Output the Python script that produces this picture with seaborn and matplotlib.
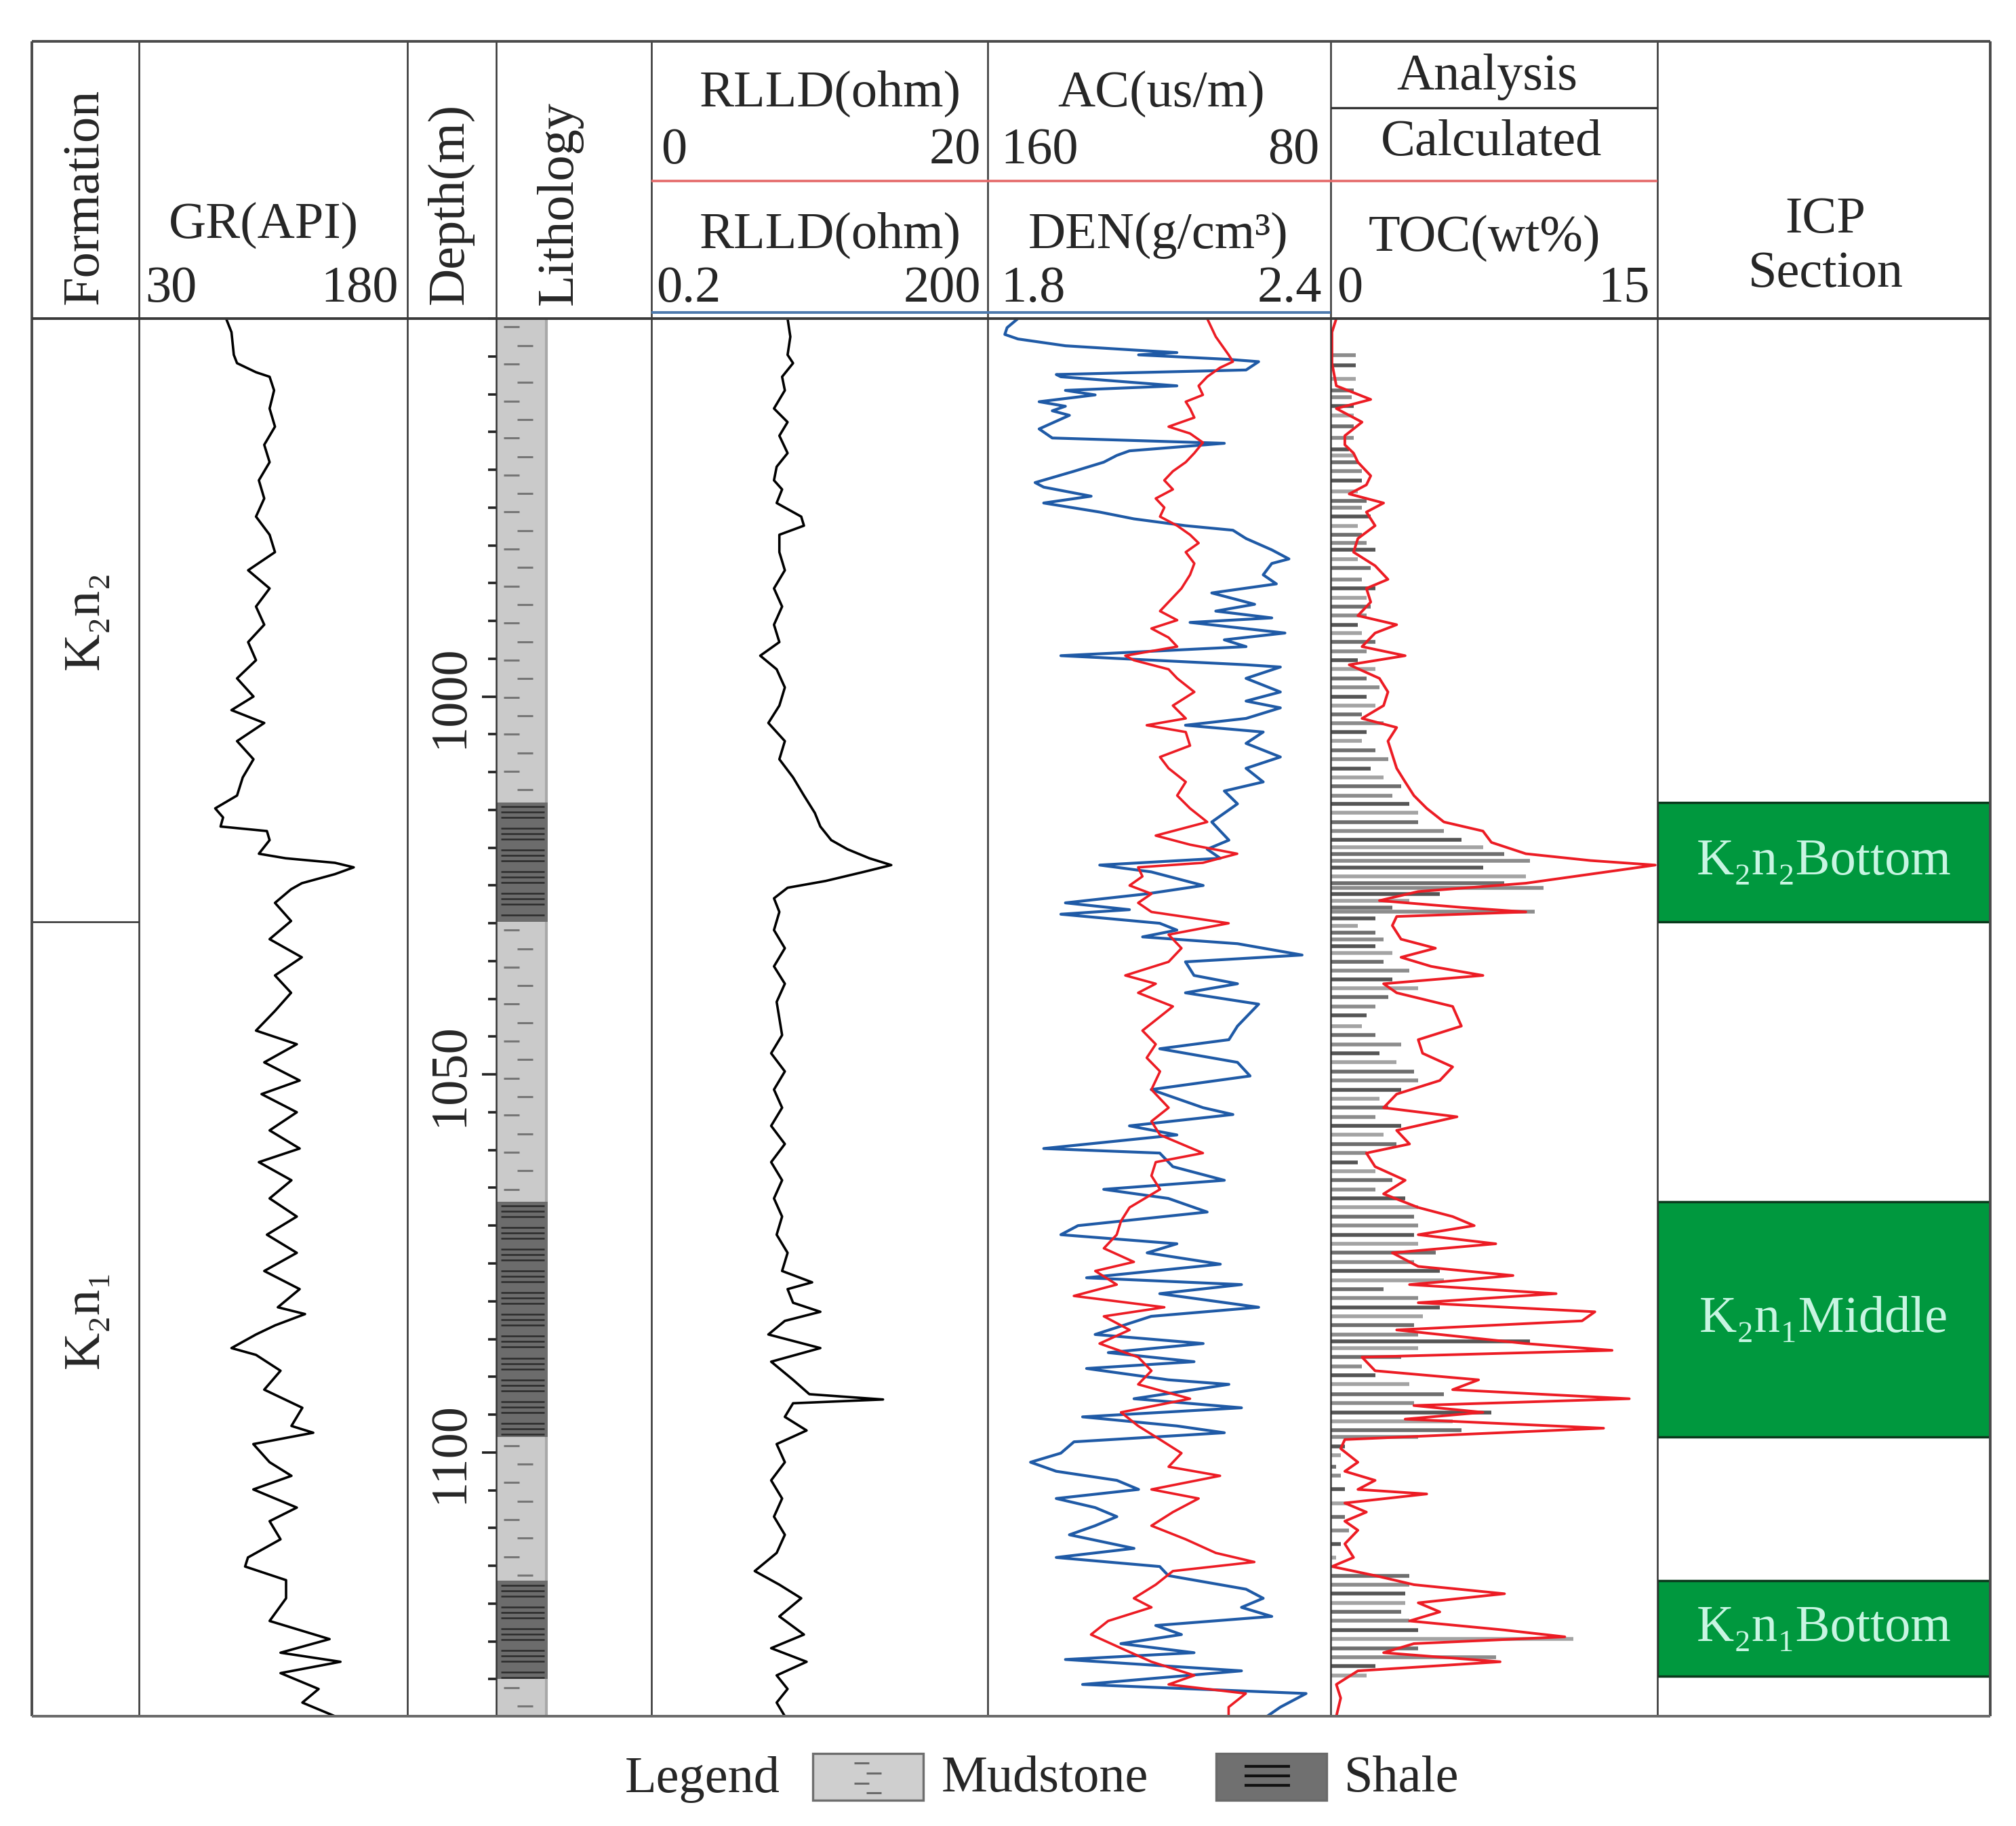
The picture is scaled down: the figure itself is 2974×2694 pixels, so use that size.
import numpy as np
import pandas as pd
import matplotlib
matplotlib.use("Agg")
import matplotlib.pyplot as plt
from matplotlib.lines import Line2D
from matplotlib.patches import Rectangle
from matplotlib.ticker import MultipleLocator, FixedLocator
import seaborn as sns

sns.set_theme(style="white")
plt.rcParams["font.family"] = ["Liberation Serif", "DejaVu Serif"]

depth_top, depth_bottom = 950.0, 1134.9
depth_labels = [1000, 1050, 1100]

form_names = ["K₂n₂", "K₂n₁"]
form_top = [950.0, 1029.8]
form_base = [1029.8, 1134.9]

lith_kind = ["Mudstone", "Shale", "Mudstone", "Shale", "Mudstone", "Shale", "Mudstone"]
lith_top = [950.0, 1014.0, 1029.8, 1066.8, 1098.0, 1117.0, 1130.0]
lith_base = [1014.0, 1029.8, 1066.8, 1098.0, 1117.0, 1130.0, 1134.9]

icp_names = ["K₂n₂Bottom", "K₂n₁Middle", "K₂n₁Bottom"]
icp_top = [1014.0, 1066.8, 1117.0]
icp_base = [1029.8, 1098.0, 1129.6]

# GR (API): (depth m, value)
gr_log = [
    (950.0, 78.7), (951.8, 81.7), (954.8, 83.0), (955.9, 84.8), (957.1, 95.4), (957.7, 103.0),
    (959.5, 105.5), (961.9, 103.0), (964.3, 106.0), (966.7, 100.0), (969.0, 103.0), (971.4, 97.0),
    (973.8, 100.0), (976.2, 95.4), (978.6, 103.0), (980.9, 106.0), (983.3, 91.0), (985.7, 103.0),
    (988.1, 95.4), (990.5, 100.0), (992.8, 91.0), (995.2, 95.4), (997.6, 84.8), (1000.0, 94.0),
    (1001.8, 81.7), (1003.5, 100.0), (1005.9, 84.8), (1008.3, 94.0), (1010.7, 88.0), (1013.1, 84.8),
    (1014.8, 72.6), (1016.0, 77.0), (1017.2, 75.6), (1017.8, 101.5), (1019.0, 103.0), (1020.8, 97.0),
    (1021.4, 112.0), (1022.0, 139.5), (1022.6, 150.0), (1023.5, 139.5), (1024.7, 121.0), (1025.5, 115.0),
    (1027.3, 106.0), (1029.7, 115.0), (1032.1, 103.0), (1034.5, 121.0), (1036.9, 106.0), (1039.2, 115.0),
    (1041.6, 106.0), (1044.2, 95.4), (1046.0, 118.2), (1048.4, 100.0), (1050.8, 119.8), (1052.6, 98.5),
    (1055.0, 118.2), (1057.4, 103.0), (1059.8, 119.8), (1061.6, 97.0), (1064.0, 115.2), (1066.4, 103.0),
    (1068.8, 118.2), (1071.2, 101.5), (1073.6, 118.2), (1076.0, 100.0), (1078.4, 119.8), (1080.8, 107.6),
    (1081.7, 122.8), (1083.2, 106.0), (1084.4, 95.4), (1086.2, 81.7), (1087.1, 95.4), (1089.2, 109.1),
    (1091.7, 100.0), (1094.1, 121.3), (1096.5, 115.2), (1097.4, 127.4), (1098.9, 93.9), (1101.3, 103.0),
    (1103.1, 115.2), (1104.9, 93.9), (1107.3, 118.2), (1109.1, 103.0), (1111.5, 109.1), (1113.9, 90.9),
    (1115.1, 89.3), (1116.9, 112.2), (1119.3, 112.2), (1122.3, 103.0), (1124.7, 136.5), (1126.5, 109.1),
    (1127.7, 142.6), (1129.2, 109.1), (1131.3, 130.4), (1133.1, 121.3), (1134.9, 139.5),
]

# RLLD (ohm.m)
rlld_log = [
    (950.0, 3.28), (952.4, 3.47), (954.8, 3.28), (955.9, 3.67), (957.7, 2.93), (959.5, 3.10),
    (961.9, 2.48), (963.7, 3.28), (965.5, 2.77), (967.8, 3.28), (969.6, 2.62), (971.4, 2.48),
    (972.6, 2.93), (974.4, 2.62), (976.2, 4.34), (977.4, 4.59), (978.6, 2.77), (980.9, 2.77),
    (983.3, 3.10), (985.7, 2.48), (988.1, 2.93), (990.5, 2.48), (992.8, 2.77), (994.6, 1.87),
    (996.4, 2.62), (998.8, 3.10), (1001.2, 2.77), (1003.5, 2.21), (1005.9, 3.10), (1008.3, 2.77),
    (1010.7, 3.67), (1013.1, 4.59), (1015.4, 5.74), (1017.2, 6.43), (1019.0, 8.04), (1020.2, 11.2),
    (1021.4, 17.6), (1022.3, 27.6), (1023.2, 15.7), (1024.4, 7.18), (1025.3, 3.28), (1026.7, 2.48),
    (1028.5, 2.77), (1030.9, 2.48), (1033.3, 3.10), (1035.7, 2.48), (1038.0, 3.10), (1040.4, 2.62),
    (1044.8, 2.93), (1047.2, 2.34), (1049.6, 3.10), (1052.0, 2.48), (1054.4, 2.93), (1056.8, 2.34),
    (1059.2, 3.10), (1061.6, 2.34), (1064.0, 2.93), (1066.4, 2.48), (1068.8, 2.93), (1071.2, 2.62),
    (1073.6, 3.28), (1076.0, 2.93), (1077.5, 5.43), (1078.4, 3.28), (1080.2, 3.67), (1081.4, 6.43),
    (1082.6, 3.10), (1084.4, 2.21), (1086.2, 6.43), (1088.0, 2.34), (1090.4, 3.67), (1092.3, 5.13),
    (1093.0, 23.3), (1093.5, 3.67), (1095.3, 3.10), (1097.1, 4.85), (1098.9, 2.62), (1101.3, 3.10),
    (1103.7, 2.34), (1106.1, 2.93), (1108.5, 2.48), (1110.9, 3.10), (1113.3, 2.62), (1115.7, 1.67),
    (1117.5, 2.77), (1119.3, 4.34), (1121.7, 2.77), (1124.1, 4.59), (1125.9, 2.34), (1127.7, 4.85),
    (1129.5, 2.62), (1131.3, 3.28), (1133.1, 2.62), (1134.9, 3.10),
]

# DEN (g/cm3)
den_log = [
    (950.0, 1.853), (951.2, 1.834), (952.1, 1.830), (952.7, 1.853), (953.6, 1.936), (954.2, 2.064),
    (954.5, 2.131), (954.8, 2.064), (955.4, 2.222), (955.7, 2.274), (956.8, 2.252), (957.4, 1.920),
    (957.7, 1.928), (958.9, 2.131), (959.5, 1.936), (960.1, 1.988), (961.0, 1.890), (961.6, 1.936),
    (962.2, 1.913), (962.8, 1.943), (964.6, 1.890), (965.8, 1.913), (966.5, 2.214), (967.5, 2.048),
    (968.1, 2.026), (969.0, 2.003), (970.2, 1.951), (971.7, 1.883), (972.3, 1.898), (973.5, 1.981),
    (974.4, 1.898), (975.6, 1.996), (976.5, 2.056), (977.4, 2.146), (978.0, 2.229), (979.1, 2.252),
    (980.6, 2.297), (981.8, 2.327), (982.4, 2.297), (983.9, 2.282), (985.1, 2.305), (986.3, 2.192),
    (987.8, 2.267), (988.7, 2.199), (989.6, 2.297), (990.2, 2.154), (991.6, 2.320), (992.5, 2.214),
    (993.4, 2.252), (994.6, 1.928), (995.8, 2.252), (996.1, 2.312), (997.6, 2.252), (999.4, 2.312),
    (1000.6, 2.252), (1001.5, 2.312), (1002.9, 2.252), (1003.8, 2.146), (1004.7, 2.282), (1006.2, 2.252),
    (1008.0, 2.312), (1009.5, 2.252), (1011.3, 2.282), (1012.5, 2.214), (1014.2, 2.237), (1016.6, 2.192),
    (1019.0, 2.222), (1020.2, 2.184), (1021.4, 2.207), (1022.3, 1.996), (1023.2, 2.086), (1025.0, 2.177),
    (1026.1, 2.079), (1027.3, 1.936), (1028.2, 2.048), (1028.8, 1.928), (1030.0, 2.101), (1030.9, 2.131),
    (1031.8, 2.071), (1032.7, 2.237), (1034.2, 2.350), (1035.1, 2.146), (1036.9, 2.161), (1038.0, 2.237),
    (1039.2, 2.146), (1040.7, 2.274), (1043.6, 2.237), (1045.4, 2.222), (1046.6, 2.101), (1048.4, 2.237),
    (1050.2, 2.259), (1052.0, 2.086), (1054.4, 2.177), (1055.3, 2.229), (1056.8, 2.048), (1058.0, 2.131),
    (1059.8, 1.898), (1060.4, 2.101), (1062.2, 2.124), (1064.0, 2.214), (1065.2, 2.003), (1066.4, 2.116),
    (1068.2, 2.184), (1070.0, 1.958), (1071.2, 1.928), (1072.4, 2.131), (1073.6, 2.079), (1075.1, 2.207),
    (1076.9, 1.973), (1077.8, 2.244), (1079.0, 2.101), (1080.8, 2.274), (1082.0, 2.086), (1084.4, 1.988),
    (1085.6, 2.177), (1086.8, 2.011), (1088.0, 2.161), (1088.9, 1.973), (1090.4, 2.116), (1091.0, 2.222),
    (1092.9, 2.056), (1094.1, 2.244), (1095.3, 1.966), (1096.5, 2.131), (1097.4, 2.214), (1098.6, 1.951),
    (1100.1, 1.928), (1101.3, 1.875), (1102.5, 1.920), (1103.7, 2.026), (1104.9, 2.064), (1106.1, 1.920),
    (1107.3, 1.988), (1108.5, 2.026), (1109.7, 1.988), (1110.9, 1.943), (1112.7, 2.056), (1113.9, 1.920),
    (1115.1, 2.101), (1116.3, 2.116), (1118.1, 2.252), (1119.3, 2.282), (1120.5, 2.244), (1121.7, 2.297),
    (1122.9, 2.094), (1124.1, 2.139), (1125.3, 2.033), (1126.5, 2.161), (1127.4, 1.936), (1128.9, 2.244),
    (1130.7, 1.966), (1131.9, 2.357), (1133.7, 2.312), (1134.9, 2.289),
]

# AC (us/m)
ac_log = [
    (950.0, 108.8), (951.2, 107.8), (952.4, 106.8), (953.6, 105.3), (954.8, 103.8), (955.7, 102.8),
    (956.5, 105.8), (957.7, 108.8), (958.9, 110.8), (960.1, 109.8), (961.0, 113.8), (961.9, 112.8),
    (963.1, 111.8), (964.3, 117.8), (965.2, 112.8), (966.4, 109.8), (967.8, 111.8), (969.0, 113.8),
    (970.2, 116.8), (971.4, 118.8), (972.6, 116.8), (973.8, 120.8), (975.0, 118.8), (976.2, 119.8),
    (977.4, 115.8), (978.6, 112.8), (979.7, 110.8), (980.9, 113.8), (982.4, 111.8), (983.9, 112.8),
    (985.7, 114.8), (987.5, 117.8), (988.7, 119.8), (989.9, 115.8), (991.0, 121.8), (992.2, 117.8),
    (993.4, 115.8), (994.6, 127.9), (995.2, 125.9), (996.4, 117.8), (997.6, 115.8), (999.4, 111.8),
    (1001.2, 116.8), (1002.9, 113.8), (1003.8, 122.9), (1004.7, 113.8), (1006.5, 112.8), (1008.0, 119.8),
    (1009.5, 117.8), (1011.3, 113.8), (1013.1, 115.8), (1014.8, 112.8), (1016.6, 108.8), (1018.4, 120.8),
    (1019.6, 112.8), (1020.8, 101.8), (1022.0, 109.8), (1022.6, 124.9), (1023.8, 123.9), (1025.0, 126.9),
    (1026.1, 121.8), (1027.3, 124.9), (1028.5, 121.8), (1030.0, 103.8), (1031.5, 117.8), (1033.3, 114.8),
    (1035.1, 117.8), (1036.9, 127.9), (1038.0, 120.8), (1039.2, 124.9), (1041.0, 116.8), (1044.2, 123.9),
    (1046.0, 120.8), (1047.8, 122.9), (1049.6, 119.8), (1052.0, 121.8), (1054.4, 117.8), (1056.2, 121.8),
    (1058.0, 119.8), (1060.4, 109.8), (1061.6, 120.8), (1063.4, 121.8), (1065.2, 119.8), (1067.6, 126.9),
    (1069.4, 128.9), (1071.2, 129.9), (1073.0, 132.9), (1074.8, 125.9), (1076.0, 134.9), (1077.8, 129.9),
    (1079.3, 139.9), (1080.8, 118.8), (1082.0, 132.9), (1083.8, 126.9), (1085.6, 133.9), (1087.4, 124.9),
    (1089.2, 121.8), (1091.0, 124.9), (1092.9, 112.8), (1094.7, 128.9), (1096.5, 124.9), (1098.3, 119.8),
    (1100.1, 114.8), (1101.9, 117.8), (1103.1, 105.8), (1104.9, 121.8), (1106.1, 110.8), (1107.9, 116.8),
    (1109.7, 121.8), (1111.5, 113.8), (1113.3, 106.8), (1114.5, 97.8), (1115.7, 116.8), (1117.5, 120.8),
    (1119.3, 125.9), (1120.5, 121.8), (1122.3, 131.9), (1124.1, 135.9), (1125.9, 128.9), (1127.7, 121.8),
    (1129.5, 111.8), (1130.7, 117.8), (1131.9, 99.8), (1133.7, 103.8), (1134.9, 103.8),
]

# calculated TOC (wt%)
toc_calc_log = [
    (950.0, 0.26), (951.8, 0.06), (953.6, 0.06), (955.9, 0.06), (958.9, 0.26), (960.7, 1.84),
    (961.9, 0.26), (963.7, 1.44), (965.5, 0.65), (966.7, 0.65), (967.8, 1.05), (969.0, 1.25),
    (970.8, 1.84), (972.0, 1.64), (973.2, 0.85), (974.4, 2.43), (975.6, 1.64), (977.4, 2.04),
    (979.1, 1.25), (980.9, 1.05), (982.7, 2.04), (984.5, 2.63), (985.7, 1.64), (987.5, 1.84),
    (989.3, 1.25), (990.5, 3.03), (991.6, 2.04), (993.4, 1.44), (994.6, 3.42), (995.8, 0.85),
    (997.6, 2.24), (999.4, 2.63), (1001.2, 2.43), (1002.9, 1.44), (1004.1, 3.03), (1005.9, 2.63),
    (1007.7, 2.83), (1009.5, 3.03), (1011.3, 3.42), (1013.1, 3.82), (1014.8, 4.41), (1016.6, 5.20),
    (1017.8, 6.99), (1019.3, 7.38), (1020.8, 8.96), (1021.7, 11.93), (1022.3, 14.90), (1023.5, 11.93),
    (1024.7, 8.96), (1025.8, 4.02), (1027.0, 2.24), (1027.9, 6.00), (1028.5, 8.96), (1029.1, 3.03),
    (1030.3, 2.83), (1032.1, 3.23), (1033.3, 4.81), (1034.5, 3.23), (1035.7, 4.61), (1036.9, 6.99),
    (1038.0, 2.43), (1039.2, 3.03), (1041.0, 5.60), (1043.6, 6.00), (1045.4, 4.02), (1047.2, 4.22),
    (1049.0, 5.60), (1050.8, 5.01), (1052.6, 3.03), (1054.4, 2.43), (1055.6, 5.80), (1057.4, 3.03),
    (1059.2, 3.62), (1060.4, 1.64), (1062.2, 2.04), (1064.0, 3.42), (1065.8, 2.43), (1067.6, 4.02),
    (1068.8, 5.60), (1070.0, 6.59), (1071.2, 4.02), (1072.4, 7.58), (1073.6, 2.83), (1075.4, 4.02),
    (1076.6, 8.37), (1077.8, 3.62), (1079.0, 10.35), (1080.2, 4.02), (1081.4, 12.13), (1082.6, 11.54),
    (1083.8, 3.03), (1085.6, 8.96), (1086.5, 12.92), (1087.4, 1.44), (1089.2, 2.04), (1090.4, 6.79),
    (1091.7, 5.60), (1092.9, 13.71), (1093.8, 3.82), (1094.7, 6.99), (1095.6, 3.42), (1096.8, 12.53),
    (1098.3, 0.65), (1099.5, 0.46), (1101.3, 1.25), (1102.5, 0.65), (1103.7, 2.04), (1104.9, 1.25),
    (1105.5, 4.41), (1106.7, 0.65), (1107.9, 1.64), (1109.1, 0.65), (1110.3, 1.25), (1112.1, 0.65),
    (1113.9, 1.05), (1115.1, 0.06), (1116.3, 2.04), (1117.5, 3.82), (1118.7, 7.98), (1119.9, 4.02),
    (1121.1, 5.01), (1122.3, 3.62), (1123.5, 7.98), (1124.4, 10.75), (1125.3, 3.82), (1126.5, 2.43),
    (1127.7, 7.78), (1128.9, 1.25), (1130.7, 0.26), (1132.5, 0.46), (1134.9, 0.26),
]

# analysed TOC samples (wt%)
toc_lab_depth = [
    954.8, 956.2, 958.0, 959.5, 960.4, 961.6, 962.8, 964.3, 965.8, 967.3, 968.1, 969.0, 970.2, 971.4,
    972.9, 974.1, 975.0, 976.2, 977.4, 978.6, 979.7, 980.6, 981.8, 983.0, 984.5, 985.7, 986.9, 988.1,
    989.3, 990.5, 991.6, 992.8, 994.0, 995.2, 996.4, 997.6, 998.8, 1000.0, 1001.2, 1002.4, 1003.5,
    1004.7, 1005.9, 1007.1, 1008.3, 1009.5, 1010.7, 1011.9, 1013.1, 1014.2, 1015.4, 1016.6, 1017.8,
    1019.0, 1019.9, 1020.8, 1021.7, 1022.6, 1023.8, 1024.7, 1025.3, 1026.1, 1027.0, 1027.9, 1028.5,
    1029.4, 1030.3, 1031.2, 1032.1, 1033.0, 1033.9, 1035.1, 1036.3, 1037.4, 1038.6, 1039.8, 1041.0,
    1042.2, 1043.6, 1044.8, 1046.0, 1047.2, 1048.4, 1049.6, 1050.8, 1052.0, 1053.2, 1054.4, 1055.6,
    1056.8, 1058.0, 1059.2, 1060.4, 1061.6, 1062.8, 1064.0, 1065.2, 1066.4, 1067.6, 1068.8, 1070.0,
    1071.2, 1072.4, 1073.6, 1074.8, 1076.0, 1077.2, 1078.4, 1079.6, 1080.8, 1082.0, 1083.2, 1084.4,
    1085.3, 1086.2, 1087.4, 1088.6, 1089.8, 1091.0, 1092.3, 1093.5, 1094.7, 1095.9, 1097.1, 1098.0,
    1099.2, 1100.4, 1101.9, 1103.1, 1104.9, 1106.7, 1108.5, 1110.3, 1112.1, 1113.9, 1116.3, 1117.5,
    1118.7, 1119.9, 1121.1, 1122.3, 1123.5, 1124.7, 1125.9, 1127.1, 1128.3, 1129.5,
]
toc_lab_val = [
    1.15, 1.15, 1.15, 1.05, 0.95, 1.05, 1.05, 1.05, 1.05, 0.85, 1.05, 1.25, 1.44, 1.44,
    1.25, 1.64, 1.44, 1.84, 1.25, 1.44, 1.64, 2.04, 1.25, 1.84, 1.44, 2.04, 1.64, 1.84,
    1.64, 1.25, 1.44, 2.04, 1.64, 1.25, 2.04, 1.64, 2.24, 1.64, 2.04, 1.44, 2.43,
    1.64, 1.44, 2.04, 2.63, 1.84, 2.43, 3.23, 2.83, 3.62, 4.02, 4.02, 5.20,
    6.00, 6.99, 7.98, 9.16, 6.99, 8.96, 7.98, 9.76, 5.01, 3.62, 2.83, 9.36,
    2.04, 1.25, 2.04, 2.43, 2.04, 2.83, 2.43, 3.62, 2.83, 4.02, 2.63, 2.04,
    1.64, 1.44, 2.04, 3.23, 2.24, 3.03, 3.82, 4.02, 3.23, 2.24, 2.63, 2.04,
    3.23, 2.43, 3.03, 1.64, 1.25, 2.04, 2.83, 2.04, 3.42, 4.02, 3.82, 4.02,
    3.82, 4.02, 4.81, 3.82, 5.01, 5.20, 2.43, 4.02, 5.01, 4.22, 3.82, 4.02,
    9.16, 4.02, 3.23, 1.44, 2.04, 3.62, 5.20, 3.82, 7.38, 5.60, 6.00, 4.02,
    0.65, 0.46, 0.26, 0.46, 0.65, 0.85, 0.65, 0.85, 0.46, 0.26, 3.62, 3.62,
    3.42, 3.42, 3.23, 3.62, 4.02, 11.14, 4.02, 7.58, 2.04, 1.64,
]

# ---------------- layout (pixels of the 2974 x 2694 canvas) ----------------
W, H = 2974, 2694
PLOT_TOP, PLOT_BOT = 470, 2532
col_x = [47, 205, 601, 732, 961, 1457, 1963, 2445, 2936]
FS = 55
FRAME = "#333333"
RED = "#ec1c24"
BLUE = "#1f5aa6"

fig = plt.figure(figsize=(W / 100, H / 100), dpi=100)
fig.patch.set_facecolor("white")


def fx(px):
    return px / W


def fy(py):
    return 1 - py / H


def track(x0, x1):
    ax = fig.add_axes([fx(x0), fy(PLOT_BOT), (x1 - x0) / W, (PLOT_BOT - PLOT_TOP) / H])
    ax.set_facecolor("none")
    return ax


def finish(ax, xlim):
    ax.set_xlim(*xlim)
    ax.set_ylim(depth_bottom, depth_top)
    ax.set(xlabel=None, ylabel=None)
    ax.set_axis_off()


def fline(xs, ys, color=FRAME, lw=1.8):
    fig.add_artist(Line2D([fx(x) for x in xs], [fy(y) for y in ys], color=color, lw=lw,
                          transform=fig.transFigure, solid_capstyle="butt"))


def ftext(x, y, s, ha="center", **kw):
    fig.text(fx(x), fy(y), s, ha=ha, va="center", fontsize=kw.pop("fontsize", FS), **kw)


# ---- formation column ----
ax_form = track(col_x[0], col_x[1])
for name, top, base in zip(form_names, form_top, form_base):
    ax_form.text(0.5, (top + base) / 2, name, rotation=90, ha="center", va="center",
                 fontsize=FS, transform=ax_form.get_yaxis_transform())
for base in form_base[:-1]:
    ax_form.axhline(base, color=FRAME, lw=1.8)
finish(ax_form, (0, 1))

# ---- GR ----
ax_gr = track(col_x[1], col_x[2])
gr_df = pd.DataFrame(gr_log, columns=["depth", "GR"])
sns.lineplot(data=gr_df, x="GR", y="depth", sort=False, estimator=None, color="black", lw=2.6, ax=ax_gr)
finish(ax_gr, (30, 180))

# ---- depth column ----
ax_dep = track(col_x[2], col_x[3])
ax_dep.set_ylim(depth_bottom, depth_top)
ax_dep.set_xlim(0, 1)
for sp in ax_dep.spines.values():
    sp.set_visible(False)
ax_dep.set_xticks([])
ax_dep.yaxis.tick_right()
ax_dep.yaxis.set_major_locator(FixedLocator(depth_labels))
ax_dep.yaxis.set_minor_locator(MultipleLocator(5))
ax_dep.tick_params(axis="y", which="major", direction="in", length=15, width=2.6, color="#222222",
                   labelright=False, right=True)
ax_dep.tick_params(axis="y", which="minor", direction="in", length=9, width=2.6, color="#222222", right=True)
for d in depth_labels:
    ax_dep.text(0.48, d, str(d), rotation=90, ha="center", va="center", fontsize=FS,
                transform=ax_dep.get_yaxis_transform())

# ---- lithology ----
ax_lith = track(col_x[3], col_x[4])
BAR = 0.333
for kind, top, base in zip(lith_kind, lith_top, lith_base):
    if kind == "Mudstone":
        ax_lith.fill_betweenx([top, base], 0, BAR, color="#cacaca", lw=0)
        ax_lith.vlines(BAR - 0.01, top, base, color="#a8a8a8", lw=3)
        marks = np.arange(top + 1.1, base - 0.4, 2.45)
        for i, d in enumerate(marks):
            x0 = 0.05 if i % 2 == 0 else 0.135
            ax_lith.hlines(d, x0, x0 + 0.1, color="#767676", lw=2.2)
    else:
        ax_lith.fill_betweenx([top, base], 0, BAR, color="#6c6c6c", lw=0)
        lines = np.arange(top + 0.55, base - 0.2, 0.72)
        for i, d in enumerate(lines):
            if i % 4 == 3:
                continue
            ax_lith.hlines(d, 0.03, 0.31, color="#2b2b2b", lw=1.8)
finish(ax_lith, (0, 1))

# ---- RLLD ----
ax_rt = track(col_x[4], col_x[5])
rt_df = pd.DataFrame(rlld_log, columns=["depth", "RLLD"])
ax_rt.set_xscale("log")
sns.lineplot(data=rt_df, x="RLLD", y="depth", sort=False, estimator=None, color="black", lw=2.6, ax=ax_rt)
finish(ax_rt, (0.2, 200))

# ---- DEN + AC ----
ax_den = track(col_x[5], col_x[6])
den_df = pd.DataFrame(den_log, columns=["depth", "DEN"])
sns.lineplot(data=den_df, x="DEN", y="depth", sort=False, estimator=None, color=BLUE, lw=3.0, ax=ax_den)
finish(ax_den, (1.8, 2.4))
ax_ac = track(col_x[5], col_x[6])
ac_df = pd.DataFrame(ac_log, columns=["depth", "AC"])
sns.lineplot(data=ac_df, x="AC", y="depth", sort=False, estimator=None, color=RED, lw=2.6, ax=ax_ac)
finish(ax_ac, (160, 80))

# ---- TOC ----
ax_toc = track(col_x[6], col_x[7])
bar_cols = ["#8c8c8c", "#555555", "#a3a3a3", "#6e6e6e"]
ax_toc.hlines(toc_lab_depth, 0, toc_lab_val,
              colors=[bar_cols[i % 4] for i in range(len(toc_lab_depth))], lw=4.0)
toc_df = pd.DataFrame(toc_calc_log, columns=["depth", "TOC"])
sns.lineplot(data=toc_df, x="TOC", y="depth", sort=False, estimator=None, color=RED, lw=2.8, ax=ax_toc)
finish(ax_toc, (0, 15))

# ---- ICP sections ----
ax_icp = track(col_x[7], col_x[8])
for name, top, base in zip(icp_names, icp_top, icp_base):
    ax_icp.fill_betweenx([top, base], 0, 1, facecolor="#00983e", edgecolor="#0a3a1c", lw=2.5)
    ax_icp.text(0.5, (top + base) / 2, name, ha="center", va="center", fontsize=FS,
                color="#c8f5e2", transform=ax_icp.get_yaxis_transform())
finish(ax_icp, (0, 1))

# ---------------- frame ----------------
for x in col_x[1:-1]:
    fline([x, x], [61, PLOT_BOT])
for x in (col_x[0], col_x[-1]):
    fline([x, x], [61, PLOT_BOT], color="#4a4a4a", lw=2.8)
fline([col_x[0], col_x[-1]], [61, 61], color="#4a4a4a", lw=2.8)
fline([col_x[0], col_x[-1]], [PLOT_TOP, PLOT_TOP], color="#3a3a3a", lw=2.8)
fline([col_x[0], col_x[-1]], [PLOT_BOT, PLOT_BOT], color="#6a6a6a", lw=2.8)
fline([col_x[4], col_x[7]], [267, 267], color="#e46a6a", lw=2.6)
fline([col_x[4], col_x[6]], [461, 461], color="#4d79ad", lw=2.8)
fline([col_x[6], col_x[7]], [159, 159], color="#333333", lw=2.4)

# ---------------- header text ----------------
ftext(125, 290, "Formation", rotation=90)
ftext(389, 332, "GR(API)")
ftext(214, 427, "30", ha="left")
ftext(588, 427, "180", ha="right")
ftext(664, 300, "Depth(m)", rotation=90)
ftext(825, 300, "Lithology", rotation=90)
ftext(1225, 138, "RLLD(ohm)")
ftext(975, 222, "0", ha="left")
ftext(1447, 222, "20", ha="right")
ftext(1225, 347, "RLLD(ohm)")
ftext(968, 427, "0.2", ha="left")
ftext(1447, 427, "200", ha="right")
ftext(1713, 138, "AC(us/m)")
ftext(1476, 222, "160", ha="left")
ftext(1946, 222, "80", ha="right")
ftext(1709, 347, "DEN(g/cm³)")
ftext(1476, 427, "1.8", ha="left")
ftext(1950, 427, "2.4", ha="right")
ftext(2194, 114, "Analysis")
ftext(2200, 211, "Calculated")
ftext(2190, 351, "TOC(wt%)")
ftext(1972, 427, "0", ha="left")
ftext(2434, 427, "15", ha="right")
ftext(2693, 324, "ICP")
ftext(2693, 404, "Section")

# ---------------- legend ----------------
ftext(922, 2625, "Legend", ha="left")
fig.add_artist(Rectangle((fx(1199), fy(2656)), (1362 - 1199) / W, (2656 - 2587) / H,
                         transform=fig.transFigure, facecolor="#cfcfcf", edgecolor="#6e6e6e", lw=2.4))
for i, yy in enumerate([2601, 2616, 2631, 2645]):
    x0 = 1260 if i % 2 == 0 else 1278
    fline([x0, x0 + 22], [yy, yy], color="#6a6a6a", lw=2.2)
ftext(1389, 2625, "Mudstone", ha="left")
fig.add_artist(Rectangle((fx(1794), fy(2656)), (1957 - 1794) / W, (2656 - 2587) / H,
                         transform=fig.transFigure, facecolor="#707070", edgecolor="#6a6a6a", lw=2.4))
for yy in [2606, 2620, 2634]:
    fline([1836, 1903], [yy, yy], color="#111111", lw=3.0)
ftext(1983, 2625, "Shale", ha="left")

fig.savefig("out.png", dpi=100, facecolor="white")
